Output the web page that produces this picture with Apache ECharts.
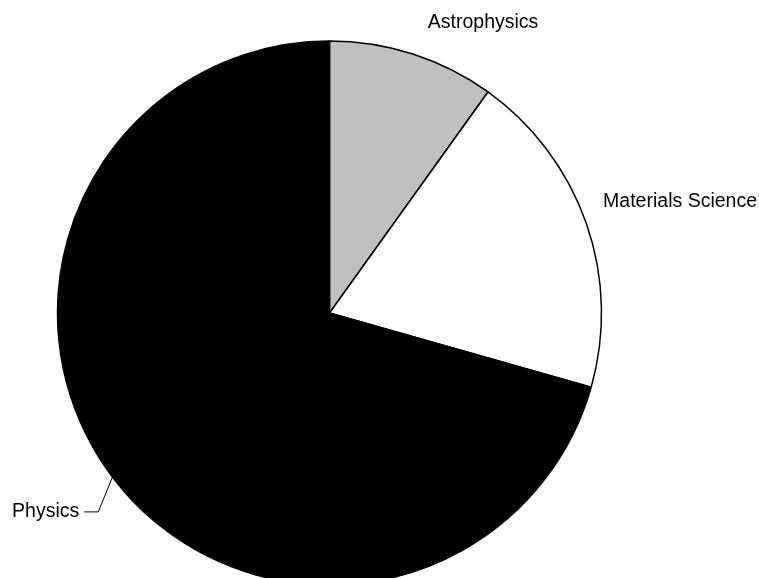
<!DOCTYPE html>
<html>
<head>
<meta charset="utf-8">
<script src="https://cdn.jsdelivr.net/npm/echarts@6/dist/echarts.min.js"></script>
<style>
  html, body { margin: 0; padding: 0; background: #ffffff; }
  #chart { width: 759px; height: 578px; }
</style>
</head>
<body>
<div id="chart"></div>
<script>
// Share of research output by field
const fields = ['Astrophysics', 'Materials Science', 'Physics'];
const shares = [9.9, 19.5, 70.6];
const sliceColors = ['#c0c0c0', '#ffffff', '#000000'];

const CENTER = [329.5, 313];
const RADIUS = 272;

// Per-slice label placement: only the large slice keeps a visible leader line
const labelSetup = {
  'Astrophysics': {
    label: {},
    labelLine: { show: false, length: 33, length2: 0 }
  },
  'Materials Science': {
    label: { alignTo: 'edge', edgeDistance: 2 },
    labelLine: { show: false, length: 66, length2: 0 }
  },
  'Physics': {
    label: {},
    labelLine: { show: true, length: 33, length2: 14 }
  }
};

const chart = echarts.init(document.getElementById('chart'), null, { renderer: 'canvas' });

const pieData = fields.map((name, i) => ({
  name: name,
  value: shares[i],
  itemStyle: { color: sliceColors[i] },
  label: labelSetup[name].label,
  labelLine: Object.assign({ lineStyle: { color: '#000000', width: 1 } }, labelSetup[name].labelLine)
}));

// Lower the Physics label a little, sliding its elbow along the same circle
const PHYSICS_DROP = 15;
function layoutLabels(p) {
  if (fields[p.dataIndex] !== 'Physics' || !p.labelLinePoints) return {};
  const pts = p.labelLinePoints;
  const R = Math.hypot(pts[1][0] - CENTER[0], pts[1][1] - CENTER[1]);
  const ny = pts[1][1] + PHYSICS_DROP;
  const nx = CENTER[0] - Math.sqrt(R * R - (ny - CENTER[1]) * (ny - CENTER[1]));
  const len2 = Math.abs(pts[1][0] - pts[2][0]);
  const endX = nx - len2;
  return {
    x: endX - 5,
    y: ny,
    labelLinePoints: [pts[0].slice(), [nx, ny], [endX, ny]]
  };
}

chart.setOption({
  backgroundColor: '#ffffff',
  animation: false,
  series: [{
    type: 'pie',
    center: CENTER,
    radius: RADIUS,
    startAngle: 90,
    clockwise: true,
    avoidLabelOverlap: false,
    itemStyle: { borderColor: '#000000', borderWidth: 1.5 },
    label: {
      show: true,
      color: '#000000',
      fontFamily: 'Liberation Sans, Arial, sans-serif',
      fontSize: 19.5
    },
    labelLine: { show: true },
    labelLayout: layoutLabels,
    emphasis: { disabled: true },
    data: pieData
  }]
});
</script>
</body>
</html>
